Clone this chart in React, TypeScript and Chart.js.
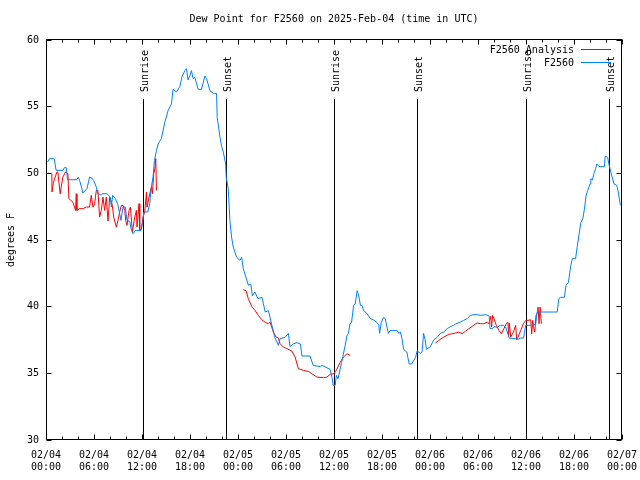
import React, { useEffect, useRef } from "react";
import { Chart, registerables } from "chart.js";

Chart.register(...registerables);

const TITLE = "Dew Point for F2560 on 2025-Feb-04 (time in UTC)";
const Y_TITLE = "degrees F";
const X_TICK_HOURS = [0, 6, 12, 18, 24, 30, 36, 42, 48, 54, 60, 66, 72];
const X_TICK_DATES = ["02/04", "02/04", "02/04", "02/04", "02/05", "02/05", "02/05", "02/05", "02/06", "02/06", "02/06", "02/06", "02/07"];
const X_TICK_TIMES = ["00:00", "06:00", "12:00", "18:00", "00:00", "06:00", "12:00", "18:00", "00:00", "06:00", "12:00", "18:00", "00:00"];
const X_MINOR_HOURS = [2, 4, 8, 10, 14, 16, 20, 22, 26, 28, 32, 34, 38, 40, 44, 46, 50, 52, 56, 58, 62, 64, 68, 70];
const Y_TICKS = [30, 35, 40, 45, 50, 55, 60];

const SUN_HOURS = [12.19, 22.56, 36.06, 46.44, 60.06, 70.44];
const SUN_LABELS = ["Sunrise", "Sunset", "Sunrise", "Sunset", "Sunrise", "Sunset"];

const SERIES_NAMES = ["F2560 Analysis", "F2560"];
const SERIES_COLORS = ["#ff0000", "#0080ff"];

// F2560 observed dew point (hours since 02/04 00:00 UTC)
const stationHours = [
  0.19, 0.44, 1.02, 1.27, 2.11, 2.28, 2.53, 2.69, 3.86, 4.03, 4.2, 4.49, 4.61, 4.91, 5.12, 5.45, 5.74, 5.95,
  6.29, 6.45, 6.79, 7.12, 7.62, 8.04, 8.17, 8.33, 8.67, 8.96, 9.21, 9.37, 9.63, 9.92, 10.13, 10.46, 10.63,
  10.88, 11.17, 11.88, 12.09, 12.22, 12.72, 12.97, 13.14, 13.38, 13.56, 13.81, 14.01, 14.42, 14.84, 15.26,
  15.68, 15.89, 16.31, 16.73, 17.02, 17.36, 17.56, 17.76, 17.97, 18.18, 18.39, 18.6, 19.02, 19.44, 19.86,
  20.07, 20.49, 20.9, 21.32, 21.4, 21.75, 21.96, 22.16, 22.46, 22.53, 22.78, 22.99, 23.2, 23.41, 23.83,
  24.25, 24.46, 24.66, 25.1, 25.3, 25.6, 25.8, 26.1, 26.5, 27.0, 27.4, 27.8, 28.2, 28.6, 29.05, 29.25, 29.9,
  30.3, 30.5, 30.9, 31.35, 31.8, 32.0, 33.0, 33.4, 34.3, 34.5, 35.5, 35.75, 35.9, 36.15, 36.3, 36.5, 36.95,
  37.4, 37.6, 37.8, 38.0, 38.2, 38.45, 38.65, 38.9, 39.1, 39.3, 39.5, 39.7, 40.1, 40.55, 40.95, 41.4, 41.6,
  41.7, 41.9, 42.2, 42.4, 42.8, 43.0, 43.9, 44.1, 44.3, 44.5, 44.7, 45.1, 45.4, 45.7, 46.2, 46.4, 46.6, 46.8,
  47.0, 47.2, 47.4, 47.55, 48.05, 48.45, 48.9, 49.3, 49.7, 50.15, 50.55, 50.95, 51.2, 51.8, 52.2, 52.65,
  53.05, 53.5, 53.9, 54.3, 54.95, 55.4, 55.5, 55.8, 56.0, 56.4, 56.8, 57.2, 57.5, 57.9, 58.7, 59.0, 59.35,
  59.7, 59.95, 60.6, 60.8, 61.2, 61.4, 63.9, 64.1, 64.3, 64.8, 65.0, 65.3, 65.6, 65.8, 66.2, 66.4, 66.6,
  66.85, 67.1, 67.3, 67.5, 67.7, 68.0, 68.1, 68.3, 68.5, 68.7, 68.85, 69.15, 69.8, 69.9, 70.2, 70.4, 70.6,
  71.0, 71.35, 71.5, 71.8,
];
const stationDew = [
  50.84, 51.1, 51.1, 50.22, 50.22, 50.42, 50.42, 49.52, 49.52, 49.72, 49.47, 48.85, 48.52, 48.72, 48.85, 49.72,
  49.64, 49.47, 48.97, 48.47, 48.4, 48.47, 48.47, 48.22, 47.47, 48.35, 48.1, 47.72, 46.97, 46.47, 47.47, 47.47,
  46.47, 46.4, 45.85, 45.47, 45.72, 45.72, 46.34, 47.1, 47.1, 47.72, 48.85, 49.72, 50.97, 51.72, 52.2, 52.6,
  53.8, 54.7, 55.2, 56.3, 56.1, 56.5, 57.3, 57.7, 57.85, 57.0, 57.3, 57.7, 57.1, 57.2, 56.3, 56.3, 57.3, 57.1,
  56.2, 56.0, 56.0, 54.2, 52.7, 52.0, 51.6, 50.7, 49.7, 48.85, 46.47, 45.2, 44.47, 43.7, 43.47, 43.7, 42.85,
  42.0, 41.6, 41.7, 40.8, 41.1, 40.6, 40.7, 39.6, 39.7, 38.7, 37.7, 37.1, 37.6, 37.7, 38.0, 37.0, 37.2, 37.3,
  37.2, 36.3, 36.3, 35.6, 35.5, 35.6, 35.3, 34.7, 34.1, 34.1, 34.85, 34.6, 35.8, 37.1, 37.8, 38.0, 38.7, 38.85,
  40.1, 40.2, 41.2, 40.8, 40.1, 40.1, 39.7, 39.5, 39.1, 39.0, 38.8, 38.6, 38.0, 38.8, 39.2, 39.1, 38.0, 38.2,
  38.2, 38.0, 38.1, 37.6, 36.8, 36.6, 35.7, 35.7, 36.2, 36.7, 36.6, 36.5, 36.6, 38.0, 37.5, 36.8, 37.0, 37.5,
  37.7, 38.0, 38.1, 38.35, 38.5, 38.6, 38.7, 38.85, 38.97, 39.1, 39.35, 39.4, 39.4, 39.35, 39.4, 39.3, 38.35,
  38.35, 38.5, 38.45, 38.6, 38.6, 38.4, 37.64, 37.6, 37.55, 37.65, 37.65, 38.6, 38.6, 38.7, 38.65, 39.6, 39.6,
  40.6, 40.7, 40.7, 41.6, 41.8, 43.1, 43.6, 43.6, 44.5, 45.3, 46.3, 46.6, 47.3, 48.3, 48.7, 49.2, 49.6, 49.5,
  50.0, 50.35, 50.7, 50.5, 50.5, 51.3, 51.2, 50.6, 50.1, 49.2, 49.1, 48.7, 47.6,
];

// F2560 Analysis dew point (null = gap between analysis periods)
const analysisHours = [
  0.73, 0.75, 0.94, 1.36, 1.48, 1.77, 1.9, 2.11, 2.44, 2.74, 2.86, 3.36, 3.7, 3.78, 3.86, 4.2, 4.61, 5.03, 5.45,
  5.66, 5.87, 6.08, 6.29, 6.49, 6.7, 6.91, 7.12, 7.33, 7.54, 7.75, 7.96, 8.17, 8.29, 8.46, 8.79, 9.0, 9.21,
  9.42, 9.63, 9.84, 9.96, 10.13, 10.38, 10.55, 10.8, 11.09, 11.3, 11.38, 11.63, 11.72, 11.93, 12.13, 12.34,
  12.56, 12.63, 12.88, 13.18, 13.3, 13.47, 13.6, 13.72, 13.81,
  18.0,
  24.66, 25.0, 25.29, 25.71, 26.13, 26.54, 26.97, 27.38, 27.8, 28.01, 28.22, 28.42, 28.76, 29.05, 29.26, 29.67,
  30.1, 30.73, 31.14, 31.55, 32.18, 32.81, 33.23, 33.86, 34.69, 35.11, 35.53, 35.94, 36.28, 36.78, 37.19,
  37.62, 38.03,
  43.0,
  48.68, 49.1, 49.72, 50.35, 50.78, 51.19, 51.6, 52.03, 52.45, 52.86, 53.28, 53.7, 53.91, 54.32, 54.74, 55.16,
  55.36, 55.58, 55.7, 55.83, 56.0, 56.29, 56.62, 56.92, 57.24, 57.58, 57.74, 57.83, 57.92, 58.08, 58.42,
  58.71, 58.83, 59.0, 59.34, 59.67, 59.96, 60.25, 60.59, 60.71, 60.84, 60.93, 61.09, 61.25, 61.43, 61.5,
  61.63, 61.76, 61.84, 61.93,
];
const analysisDew = [
  49.97, 48.6, 49.34, 50.1, 50.1, 48.47, 48.97, 49.72, 50.1, 49.97, 48.1, 47.84, 47.22, 48.47, 47.22, 47.35,
  47.35, 47.47, 47.47, 48.35, 47.47, 47.72, 48.72, 48.72, 46.72, 47.22, 48.22, 47.22, 48.22, 46.42, 48.22,
  47.84, 47.6, 46.72, 45.97, 46.47, 47.1, 47.6, 47.6, 47.22, 46.47, 46.1, 47.22, 47.47, 45.6, 46.72, 47.22,
  45.97, 47.72, 45.72, 45.85, 46.72, 47.1, 48.6, 47.47, 48.22, 48.97, 48.47, 49.97, 50.35, 51.1, 48.72,
  null,
  41.27, 41.2, 40.6, 40.02, 39.72, 39.35, 39.02, 38.84, 38.72, 38.84, 38.47, 38.09, 37.72, 37.64, 37.22, 36.97,
  36.85, 36.67, 36.22, 35.35, 35.22, 35.14, 34.97, 34.72, 34.67, 34.72, 34.92, 34.97, 35.22, 35.84, 36.22,
  36.47, 36.34,
  null,
  37.27, 37.47, 37.72, 37.92, 37.97, 38.02, 38.09, 37.97, 38.17, 38.35, 38.52, 38.72, 38.77, 38.72, 38.72,
  38.84, 38.72, 39.27, 38.47, 39.35, 39.1, 38.6, 38.22, 37.97, 38.35, 38.77, 38.84, 37.77, 38.77, 37.72, 38.09,
  38.6, 37.52, 37.72, 38.22, 38.72, 38.97, 38.97, 39.02, 37.97, 38.97, 38.52, 38.09, 39.35, 39.52, 39.97,
  38.72, 39.97, 39.97, 38.72,
];

const FONT = '10px "DejaVu Sans Mono", monospace';

const gnuplotPlugin = {
  id: "gnuplotFrame",
  beforeDatasetsDraw(chart: any) {
    const { ctx, chartArea: a, scales } = chart;
    const x = scales.x;
    ctx.save();
    ctx.strokeStyle = "#000";
    ctx.fillStyle = "#000";
    ctx.lineWidth = 1;
    ctx.font = FONT;
    SUN_HOURS.forEach((h, i) => {
      const px = Math.floor(x.getPixelForValue(h)) + 0.5;
      ctx.beginPath();
      ctx.moveTo(px, 99);
      ctx.lineTo(px, a.bottom);
      ctx.stroke();
      ctx.save();
      ctx.translate(px + 4.5, 92);
      ctx.rotate(-Math.PI / 2);
      ctx.textAlign = "left";
      ctx.textBaseline = "alphabetic";
      ctx.fillText(SUN_LABELS[i], 0, 0);
      ctx.restore();
    });
    ctx.restore();
  },
  afterDraw(chart: any) {
    const { ctx, chartArea: a, scales } = chart;
    const x = scales.x;
    const y = scales.y;
    ctx.save();
    ctx.strokeStyle = "#000";
    ctx.fillStyle = "#000";
    ctx.lineWidth = 1;
    ctx.font = FONT;
    const L = a.left + 0.5;
    const R = a.right - 0.5;
    const T = a.top - 0.5;
    const B = a.bottom - 0.5;
    // border
    ctx.strokeRect(L, T, R - L, B - T);
    // x ticks (inward, mirrored)
    const xTick = (h: number, len: number) => {
      const px = Math.floor(x.getPixelForValue(h)) + 0.5;
      ctx.beginPath();
      ctx.moveTo(px, B);
      ctx.lineTo(px, B - len);
      ctx.moveTo(px, T);
      ctx.lineTo(px, T + len);
      ctx.stroke();
    };
    X_TICK_HOURS.forEach((h) => xTick(h, 5));
    X_MINOR_HOURS.forEach((h) => xTick(h, 3));
    // y ticks
    Y_TICKS.forEach((v) => {
      const py = Math.floor(y.getPixelForValue(v)) + 0.5;
      ctx.beginPath();
      ctx.moveTo(L, py);
      ctx.lineTo(L + 5, py);
      ctx.moveTo(R, py);
      ctx.lineTo(R - 5, py);
      ctx.stroke();
    });
    // y tick labels
    ctx.textAlign = "right";
    ctx.textBaseline = "middle";
    Y_TICKS.forEach((v) => {
      ctx.fillText(String(v), a.left - 7, y.getPixelForValue(v));
    });
    // x tick labels
    ctx.textAlign = "center";
    X_TICK_HOURS.forEach((h, i) => {
      const px = x.getPixelForValue(h);
      ctx.fillText(X_TICK_DATES[i], px, 455);
      ctx.fillText(X_TICK_TIMES[i], px, 467);
    });
    // title
    ctx.fillText(TITLE, (a.left + a.right) / 2, 19);
    // y axis title
    ctx.save();
    ctx.translate(11, (a.top + a.bottom) / 2);
    ctx.rotate(-Math.PI / 2);
    ctx.textAlign = "center";
    ctx.textBaseline = "middle";
    ctx.fillText(Y_TITLE, 0, 0);
    ctx.restore();
    // legend
    SERIES_NAMES.forEach((name, i) => {
      const ly = 50 + i * 13;
      ctx.textAlign = "right";
      ctx.fillStyle = "#000";
      ctx.fillText(name, 574, ly);
      ctx.strokeStyle = SERIES_COLORS[i];
      ctx.beginPath();
      ctx.moveTo(581, Math.floor(ly) - 0.5);
      ctx.lineTo(611, Math.floor(ly) - 0.5);
      ctx.stroke();
    });
    ctx.restore();
  },
};

export default function App() {
  const ref = useRef<HTMLCanvasElement>(null);
  useEffect(() => {
    document.body.style.margin = "0";
    const chart = new Chart(ref.current as HTMLCanvasElement, {
      type: "line",
      data: {
        datasets: [
          {
            label: SERIES_NAMES[1],
            data: stationHours.map((h, i) => ({ x: h, y: stationDew[i] })),
            borderColor: SERIES_COLORS[1],
            borderWidth: 1,
            pointRadius: 0,
            tension: 0,
          },
          {
            label: SERIES_NAMES[0],
            data: analysisHours.map((h, i) => ({ x: h, y: analysisDew[i] })),
            borderColor: SERIES_COLORS[0],
            borderWidth: 1,
            pointRadius: 0,
            tension: 0,
            spanGaps: false,
          },
        ],
      },
      options: {
        responsive: false,
        animation: false,
        devicePixelRatio: 1,
        events: [],
        layout: { padding: { left: 46, right: 18, top: 40, bottom: 40 } },
        plugins: {
          legend: { display: false },
          title: { display: false },
          tooltip: { enabled: false },
        },
        scales: {
          x: { type: "linear", min: 0, max: 72, display: false },
          y: { type: "linear", min: 30, max: 60, display: false },
        },
      },
      plugins: [gnuplotPlugin],
    } as any);
    return () => chart.destroy();
  }, []);
  return (
    <div style={{ position: "absolute", left: 0, top: 0, width: 640, height: 480, background: "#fff" }}>
      <canvas ref={ref} width={640} height={480} style={{ display: "block" }} />
    </div>
  );
}
